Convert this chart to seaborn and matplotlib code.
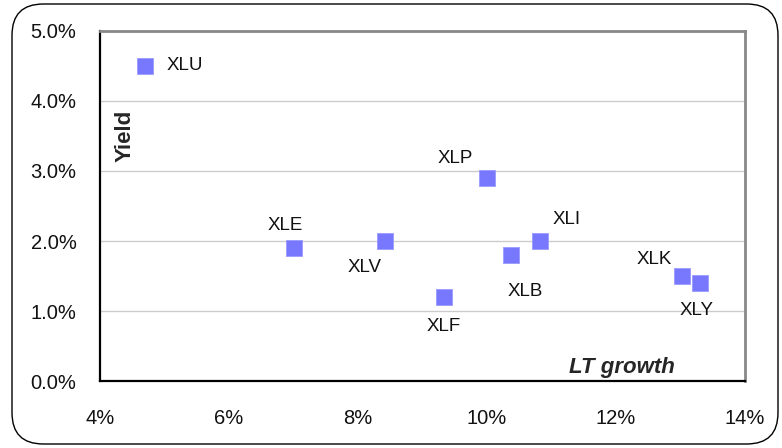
import seaborn as sns
import pandas as pd
import matplotlib.pyplot as plt
from matplotlib.patches import FancyBboxPatch
from matplotlib.ticker import PercentFormatter

# 数据: 各行业ETF 长期增长率 vs 股息率 (%)
tickers = ['XLU', 'XLE', 'XLV', 'XLF', 'XLP', 'XLB', 'XLI', 'XLK', 'XLY']
lt_growth = [4.7, 7.0, 8.42, 9.34, 10.0, 10.37, 10.82, 13.03, 13.31]
yield_pct = [4.5, 1.9, 2.0, 1.2, 2.9, 1.8, 2.0, 1.5, 1.4]

df = pd.DataFrame({'ticker': tickers, 'growth': lt_growth, 'yield': yield_pct})

# 标签相对于点的偏移 (像素)
label_offsets = {
    'XLU': (40, 0), 'XLE': (-8, 23), 'XLV': (-21, -27), 'XLF': (-1, -29),
    'XLP': (-32, 20), 'XLB': (14, -36), 'XLI': (27, 22), 'XLK': (-28, 17),
    'XLY': (-4, -27),
}

sns.set_style('white')
plt.rcParams['font.family'] = ['Liberation Sans', 'DejaVu Sans']

fig = plt.figure(figsize=(7.82, 4.48), dpi=100)
ax = fig.add_axes([100 / 782, 67 / 448, 645 / 782, 350 / 448])

sns.scatterplot(data=df, x='growth', y='yield', marker='s', s=135,
                color='#7878ff', edgecolor='#9a9aff', linewidth=0.6,
                ax=ax, zorder=3, legend=False)

for t, x, y in zip(tickers, lt_growth, yield_pct):
    dx, dy = label_offsets[t]
    ax.annotate(t, (x, y), xytext=(dx, dy), textcoords='offset pixels',
                ha='center', va='center', fontsize=13.5, color='#111111')

ax.set_xlim(4, 14)
ax.set_ylim(0, 5)
ax.set_xticks([4, 6, 8, 10, 12, 14])
ax.set_yticks([0, 1, 2, 3, 4, 5])
ax.xaxis.set_major_formatter(PercentFormatter(decimals=0))
ax.yaxis.set_major_formatter(PercentFormatter(decimals=1))
ax.tick_params(axis='both', labelsize=14.5, direction='out', length=6,
               width=1.2, color='black', labelcolor='#111111')
ax.tick_params(axis='y', pad=11)
ax.tick_params(axis='x', pad=14)
ax.set_xlabel('')
ax.set_ylabel('')

ax.grid(axis='y', color='#cccccc', linewidth=1)
ax.set_axisbelow(True)
for side in ['left', 'bottom']:
    ax.spines[side].set_color('black')
    ax.spines[side].set_linewidth(1.6)
for side in ['top', 'right']:
    ax.spines[side].set_color('#888888')
    ax.spines[side].set_linewidth(2)

ax.text(0.039, 0.70, 'Yield', transform=ax.transAxes, rotation=90,
        ha='center', va='center', fontsize=16, fontweight='bold')
ax.text(0.809, 0.04, 'LT growth', transform=ax.transAxes,
        ha='center', va='center', fontsize=16, fontweight='bold', fontstyle='italic')

# 外框圆角矩形
frame = FancyBboxPatch((12 / 782, 4 / 448), 766 / 782, 440 / 448,
                       boxstyle='round,pad=0,rounding_size=0.04',
                       transform=fig.transFigure, fill=False,
                       edgecolor='black', linewidth=1.0, mutation_aspect=782 / 448)
fig.patches.append(frame)

fig.savefig('out.png', dpi=100, facecolor='white')
